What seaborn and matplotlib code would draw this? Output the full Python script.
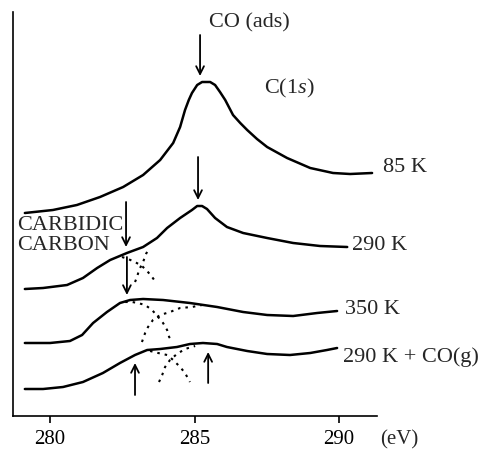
import matplotlib
matplotlib.use("Agg")
import matplotlib.pyplot as plt
import seaborn as sns

# ---- data (binding energy in eV, intensity in arbitrary offset units) ----
e_85 = [279.13, 280.10, 280.93, 281.73, 282.53, 283.22, 283.81, 284.26, 284.50, 284.67,
        284.80, 284.91, 285.09, 285.26, 285.54, 285.71, 285.88, 286.06, 286.33, 286.58,
        286.82, 287.16, 287.51, 288.20, 289.00, 289.79, 290.38, 291.14]
i_85 = [203, 206, 211, 219, 229, 241, 256, 273, 289, 306,
        316, 323, 331, 334, 334, 331, 324, 316, 301, 293,
        286, 277, 269, 258, 248, 243, 242, 243]

e_290 = [279.13, 279.76, 280.59, 281.14, 281.63, 282.08, 282.66, 283.22, 283.70, 284.05,
         284.50, 284.91, 285.09, 285.26, 285.43, 285.71, 286.12, 286.68, 287.51, 288.41,
         289.34, 290.28]
i_290 = [127, 128, 131, 138, 148, 156, 163, 169, 178, 188,
         198, 206, 210, 210, 207, 198, 189, 183, 178, 173,
         170, 169]

e_350 = [279.13, 280.00, 280.69, 281.11, 281.49, 281.97, 282.42, 282.77, 283.22, 283.91,
         284.84, 285.78, 286.68, 287.51, 288.41, 289.24, 289.93]
i_350 = [73, 73, 75, 81, 93, 104, 113, 116, 117, 116,
         113, 109, 104, 101, 100, 103, 105]

e_co = [279.13, 279.76, 280.45, 281.14, 281.83, 282.42, 282.94, 283.36, 283.81, 284.39,
        284.84, 285.29, 285.78, 286.12, 286.82, 287.51, 288.30, 289.00, 289.58, 289.93]
i_co = [27, 27, 29, 34, 43, 53, 61, 66, 67, 69,
        72, 73, 72, 69, 65, 62, 61, 63, 66, 68]

# fitted components (dotted)
e_290_a = [282.49, 282.70, 282.94, 283.18, 283.36, 283.53, 283.63]
i_290_a = [159, 157, 154, 150, 145, 139, 135]
e_290_b = [282.94, 283.01, 283.08, 283.22, 283.32, 283.43]
i_290_b = [134, 139, 146, 154, 162, 168]

e_350_a = [282.60, 282.84, 283.04, 283.29, 283.53, 283.74, 283.91, 284.05, 284.12, 284.22]
i_350_a = [114, 114, 113, 111, 106, 99, 93, 86, 79, 75]
e_350_b = [283.18, 283.29, 283.39, 283.56, 283.81, 284.15, 284.50, 284.91, 285.26]
i_350_b = [74, 83, 89, 96, 101, 104, 108, 109, 111]

e_co_a = [283.46, 283.74, 284.05, 284.26, 284.50, 284.67, 284.84]
i_co_a = [65, 63, 61, 56, 49, 43, 34]
e_co_b = [283.77, 283.88, 283.98, 284.15, 284.39, 284.67, 285.02]
i_co_b = [34, 41, 49, 56, 62, 67, 70]

x_ticks = [280, 285, 290]
x_tick_labels = ["280", "285", "290"]

curve_labels = ["85 K", "290 K", "350 K", "290 K + CO(g)"]

# ---- style ----
sns.set_theme(style="white")
plt.rcParams["font.family"] = ["Liberation Serif", "DejaVu Serif"]
plt.rcParams["mathtext.fontset"] = "custom"
plt.rcParams["mathtext.rm"] = "Liberation Serif"
plt.rcParams["mathtext.it"] = "Liberation Serif:italic"

fig = plt.figure(figsize=(4.86, 4.49), dpi=100)
ax = fig.add_axes([13 / 486, 1 - 416 / 449, 364 / 486, 404 / 449])

solid = dict(color="black", lw=1.8, estimator=None, sort=False, ax=ax)
dotted = dict(color="black", lw=1.5, estimator=None, sort=False, ax=ax,
              linestyle=(0, (1.2, 2.4)))

for e, i in [(e_85, i_85), (e_290, i_290), (e_350, i_350), (e_co, i_co)]:
    sns.lineplot(x=e, y=i, **solid)
for e, i in [(e_290_a, i_290_a), (e_290_b, i_290_b), (e_350_a, i_350_a),
             (e_350_b, i_350_b), (e_co_a, i_co_a), (e_co_b, i_co_b)]:
    sns.lineplot(x=e, y=i, **dotted)

ax.set_xlim(278.72, 291.31)
ax.set_ylim(0, 404)
ax.set_xticks(x_ticks)
ax.set_xticklabels(x_tick_labels, fontsize=15)
ax.set_yticks([])
ax.tick_params(axis="x", direction="out", length=5, width=1.2, pad=5,
               bottom=True, colors="black")
for s in ["top", "right"]:
    ax.spines[s].set_visible(False)
for s in ["left", "bottom"]:
    ax.spines[s].set_color("black")
    ax.spines[s].set_linewidth(1.2)
ax.set_xlabel("")
ax.set_ylabel("")

fs = 16
ax.text(285.50, 393, "CO (ads)", fontsize=fs, ha="left", va="center")
ax.text(287.40, 328, r"C(1$\mathit{s}$)", fontsize=fs, ha="left", va="center")
ax.text(291.52, 249, curve_labels[0], fontsize=fs, ha="left", va="center", clip_on=False)
ax.text(290.45, 170, curve_labels[1], fontsize=fs, ha="left", va="center", clip_on=False)
ax.text(290.21, 107, curve_labels[2], fontsize=fs, ha="left", va="center", clip_on=False)
ax.text(290.14, 59, curve_labels[3], fontsize=fs, ha="left", va="center", clip_on=False)
ax.text(278.86, 191, "CARBIDIC", fontsize=fs, ha="left", va="center")
ax.text(278.86, 171, "CARBON", fontsize=fs, ha="left", va="center")
ax.text(292.08, -24, "(eV)", fontsize=15, ha="center", va="center", clip_on=False)

arrows = [
    (285.19, 381, 340),
    (285.12, 259, 216),
    (282.63, 214, 169),
    (282.66, 159, 121),
    (282.94, 21, 53),
    (285.47, 33, 64),
]
for x, y0, y1 in arrows:
    ax.annotate("", xy=(x, y1), xytext=(x, y0),
                arrowprops=dict(arrowstyle="->", color="black", lw=1.3,
                                mutation_scale=14, shrinkA=0, shrinkB=0))

fig.savefig("out.png", dpi=100, facecolor="white")
